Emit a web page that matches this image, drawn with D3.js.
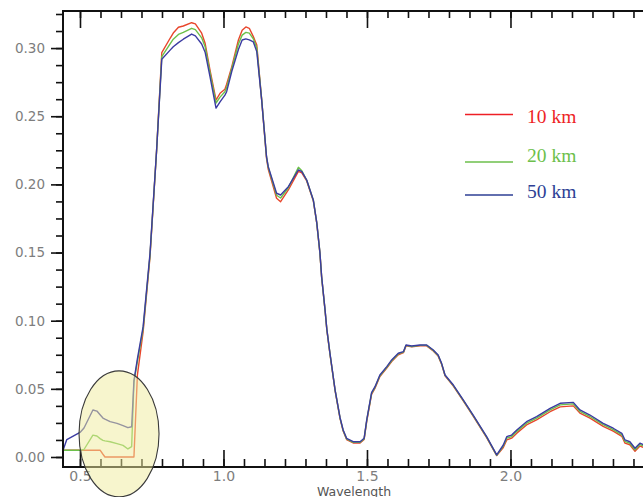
<!DOCTYPE html>
<html>
<head>
<meta charset="utf-8">
<script src="https://cdn.jsdelivr.net/npm/d3@7"></script>
<style>
  html, body { margin: 0; padding: 0; background: #fff; }
  svg { display: block; }
</style>
</head>
<body>
<svg id="chart" width="643" height="497"></svg>
<script>
// ---------------- DATA ----------------
const wavelength = [
  0.441, 0.454, 0.500, 0.514, 0.545, 0.559, 0.570, 0.580, 0.587, 0.605,
  0.629, 0.650, 0.667, 0.680, 0.688, 0.700, 0.720, 0.744, 0.767, 0.785,
  0.814, 0.825, 0.843, 0.860, 0.889, 0.902, 0.924, 0.936, 0.953, 0.974,
  0.988, 1.005, 1.011, 1.029, 1.052, 1.065, 1.078, 1.090, 1.104, 1.116,
  1.133, 1.150, 1.156, 1.185, 1.199, 1.226, 1.261, 1.273, 1.290, 1.313,
  1.325, 1.336, 1.342, 1.354, 1.360, 1.371, 1.389, 1.406, 1.417, 1.429,
  1.452, 1.476, 1.490, 1.499, 1.516, 1.528, 1.545, 1.569, 1.586, 1.609,
  1.627, 1.636, 1.656, 1.685, 1.708, 1.731, 1.748, 1.760, 1.772, 1.801,
  1.836, 1.870, 1.917, 1.952, 1.975, 1.987, 2.004, 2.022, 2.056, 2.091,
  2.138, 2.173, 2.219, 2.242, 2.277, 2.323, 2.358, 2.388, 2.399, 2.416,
  2.434, 2.451, 2.465
];

const values10km = [
  0.005, 0.005, 0.005, 0.005, 0.005, 0.005, 0.005, 0.002, 0.000, 0.000,
  0.000, 0.000, 0.000, 0.000, 0.000, 0.060, 0.092, 0.147, 0.225, 0.2966,
  0.3072, 0.3110, 0.3153, 0.3162, 0.3186, 0.3177, 0.3109, 0.3035, 0.2839, 0.2619,
  0.2668, 0.2698, 0.2735, 0.2864, 0.3059, 0.3130, 0.3155, 0.3145, 0.3084, 0.3023,
  0.2620, 0.2190, 0.2110, 0.1898, 0.1873, 0.1959, 0.2095, 0.2085, 0.2025, 0.1880,
  0.1715, 0.1495, 0.1318, 0.1073, 0.0935, 0.0755, 0.0485, 0.0283, 0.0190, 0.0128,
  0.0103, 0.0103, 0.0128, 0.0260, 0.0460, 0.0505, 0.0590, 0.0652, 0.0700, 0.0750,
  0.0765, 0.0815, 0.0808, 0.0815, 0.0815, 0.0778, 0.0740, 0.0680, 0.0595, 0.0520,
  0.0410, 0.0300, 0.0142, 0.0010, 0.0070, 0.0125, 0.0138, 0.0175, 0.0235, 0.0272,
  0.0332, 0.0368, 0.0375, 0.0322, 0.0285, 0.0225, 0.0190, 0.0152, 0.0102, 0.0090,
  0.0042, 0.0080, 0.0068
];

const values20km = [
  0.005, 0.005, 0.005, 0.0055, 0.0160, 0.0154, 0.0135, 0.0122, 0.0118, 0.0112,
  0.0098, 0.0085, 0.0059, 0.0076, 0.055, 0.070, 0.094, 0.148, 0.225, 0.2937,
  0.3030, 0.3065, 0.3100, 0.3115, 0.3145, 0.3135, 0.3075, 0.3010, 0.2820, 0.2597,
  0.2640, 0.2680, 0.2710, 0.2850, 0.3030, 0.3095, 0.3115, 0.3110, 0.3068, 0.3000,
  0.2625, 0.2200, 0.2125, 0.1920, 0.1900, 0.1975, 0.2125, 0.2100, 0.2030, 0.1884,
  0.1718, 0.1498, 0.1320, 0.1076, 0.0938, 0.0758, 0.0488, 0.0287, 0.0194, 0.0133,
  0.0108, 0.0108, 0.0133, 0.0266, 0.0467, 0.0511, 0.0596, 0.0658, 0.0706, 0.0756,
  0.0769, 0.0819, 0.0811, 0.0819, 0.0819, 0.0782, 0.0744, 0.0684, 0.0599, 0.0524,
  0.0414, 0.0304, 0.0146, 0.0012, 0.0080, 0.0138, 0.0150, 0.0188, 0.0248, 0.0285,
  0.0345, 0.0382, 0.0390, 0.0334, 0.0297, 0.0237, 0.0201, 0.0163, 0.0114, 0.0101,
  0.0053, 0.0091, 0.0079
];

const values50km = [
  0.005, 0.0128, 0.018, 0.0213, 0.0345, 0.0337, 0.0310, 0.0286, 0.0278, 0.0259,
  0.0247, 0.0230, 0.0215, 0.0222, 0.056, 0.072, 0.0956, 0.1494, 0.2252, 0.2918,
  0.2985, 0.3010, 0.3040, 0.3065, 0.3103, 0.3090, 0.3030, 0.2970, 0.2790, 0.2560,
  0.2605, 0.2655, 0.2680, 0.2830, 0.2990, 0.3059, 0.3067, 0.3060, 0.3045, 0.2974,
  0.2620, 0.2203, 0.2130, 0.1935, 0.1922, 0.1983, 0.2106, 0.2093, 0.2032, 0.1886,
  0.1720, 0.1500, 0.1323, 0.1078, 0.0940, 0.0761, 0.0490, 0.0290, 0.0198, 0.0137,
  0.0112, 0.0112, 0.0137, 0.0271, 0.0473, 0.0516, 0.0602, 0.0663, 0.0712, 0.0761,
  0.0773, 0.0822, 0.0814, 0.0822, 0.0822, 0.0785, 0.0748, 0.0687, 0.0602, 0.0528,
  0.0418, 0.0308, 0.0149, 0.0015, 0.0088, 0.0149, 0.0161, 0.0198, 0.0259, 0.0296,
  0.0357, 0.0394, 0.0401, 0.0345, 0.0308, 0.0247, 0.0211, 0.0174, 0.0125, 0.0112,
  0.0064, 0.0101, 0.0088
];

const seriesNames = ["10 km", "20 km", "50 km"];
const xTickLabels = [0.5, 1.0, 1.5, 2.0];
const yTickLabels = [0.00, 0.05, 0.10, 0.15, 0.20, 0.25, 0.30];
const xAxisTitle = "Wavelength";
// highlighted region (wavelength / reflectance centre and half-extents)
const highlight = { cx: 0.636, cy: 0.017, rx: 0.1394, ry: 0.0462 };

// ---------------- STYLE / LAYOUT ----------------
(function () {
const lineColors = ["#e8462c", "#6cc04a", "#3b3ba2"];
const legendColors = ["#ee1f25", "#6dbf4b", "#2e3f95"];

const svg = d3.select("#chart");
svg.append("rect").attr("width", 643).attr("height", 497).attr("fill", "#fff");

const pL = 63, pR = 660, pT = 11, pB = 467;
const x = d3.scaleLinear().domain([0.4408, 2.5210]).range([pL, pR]);
const y = d3.scaleLinear().domain([-0.00734, 0.3272]).range([pB, pT]);

// minor tick values
const xMinor = d3.range(0, 36).map(i => 0.5 + i * (0.5 / 7)).filter(v => v >= x.domain()[0] && v <= x.domain()[1]);
const yMinor = d3.range(0, 27).map(i => i * 0.0125).filter(v => v <= y.domain()[1]);
const xMajorTicks = [0.5, 1.0, 1.5, 2.0, 2.5];

const tickFont = "DejaVu Sans, sans-serif";

// ---- series lines
const clipId = "plotclip";
svg.append("defs").append("clipPath").attr("id", clipId)
  .append("rect").attr("x", pL).attr("y", pT).attr("width", pR - pL).attr("height", pB - pT);

const seriesValues = [values10km, values20km, values50km];
const line = d3.line().x(d => x(d[0])).y(d => y(d[1]));
const linesG = svg.append("g").attr("clip-path", `url(#${clipId})`);
seriesValues.forEach((vals, i) => {
  linesG.append("path")
    .datum(wavelength.map((w, j) => [w, vals[j]]))
    .attr("d", line)
    .attr("fill", "none")
    .attr("stroke", lineColors[i])
    .attr("stroke-width", 1.4)
    .attr("stroke-linejoin", "round");
});

// ---- axes
function styleAxis(g) {
  g.select(".domain").remove();
  g.selectAll(".tick line").attr("stroke", "#111").attr("stroke-width", 1.6);
  g.selectAll(".tick text").attr("fill", "#7d7d7d").attr("font-family", tickFont).attr("font-size", 13.5);
}

// left
svg.append("g").attr("transform", `translate(${pL},0)`)
  .call(d3.axisLeft(y).tickValues(yMinor).tickSize(7).tickFormat(""))
  .call(styleAxis);
svg.append("g").attr("transform", `translate(${pL},0)`)
  .call(d3.axisLeft(y).tickValues(yTickLabels).tickSize(12).tickPadding(6).tickFormat(d3.format(".2f")))
  .call(styleAxis);

// bottom (ticks inward)
svg.append("g").attr("transform", `translate(0,${pB})`)
  .call(d3.axisBottom(x).tickValues(xMinor).tickSize(-8).tickFormat(""))
  .call(styleAxis);
svg.append("g").attr("transform", `translate(0,${pB})`)
  .call(d3.axisBottom(x).tickValues(xTickLabels).tickSize(-17).tickPadding(4).tickFormat(d3.format(".1f")))
  .call(styleAxis)
  .call(g => g.selectAll(".tick text").attr("font-size", 14));

// top (ticks inward)
svg.append("g").attr("transform", `translate(0,${pT})`)
  .call(d3.axisTop(x).tickValues(xMinor).tickSize(-7).tickFormat(""))
  .call(styleAxis);
svg.append("g").attr("transform", `translate(0,${pT})`)
  .call(d3.axisTop(x).tickValues(xMajorTicks).tickSize(-17).tickFormat(""))
  .call(styleAxis);

// frame
svg.append("rect")
  .attr("x", pL).attr("y", pT).attr("width", pR - pL).attr("height", pB - pT)
  .attr("fill", "none").attr("stroke", "#111").attr("stroke-width", 2);

// axis title
svg.append("text")
  .attr("x", 354).attr("y", 495.5)
  .attr("text-anchor", "middle")
  .attr("font-family", tickFont).attr("font-size", 12.5)
  .attr("fill", "#555")
  .text(xAxisTitle);

// ---- highlight ellipse
svg.append("ellipse")
  .attr("cx", x(highlight.cx)).attr("cy", y(highlight.cy))
  .attr("rx", x(highlight.cx + highlight.rx) - x(highlight.cx))
  .attr("ry", y(0) - y(highlight.ry))
  .attr("fill", "#f0ec9c").attr("fill-opacity", 0.5)
  .attr("stroke", "#3a3a3a").attr("stroke-width", 1.1);

// ---- legend
const legendLineY = [114.5, 162, 195];
const legendTextY = [123, 161.5, 198];
seriesNames.forEach((name, i) => {
  svg.append("line")
    .attr("x1", 465).attr("x2", 513)
    .attr("y1", legendLineY[i]).attr("y2", legendLineY[i])
    .attr("stroke", legendColors[i]).attr("stroke-width", 1.6);
  svg.append("text")
    .attr("x", 527).attr("y", legendTextY[i])
    .attr("font-family", "Liberation Serif, Times New Roman, serif")
    .attr("font-size", 19.5)
    .attr("fill", legendColors[i])
    .text(name);
});
})();
</script>
</body>
</html>
